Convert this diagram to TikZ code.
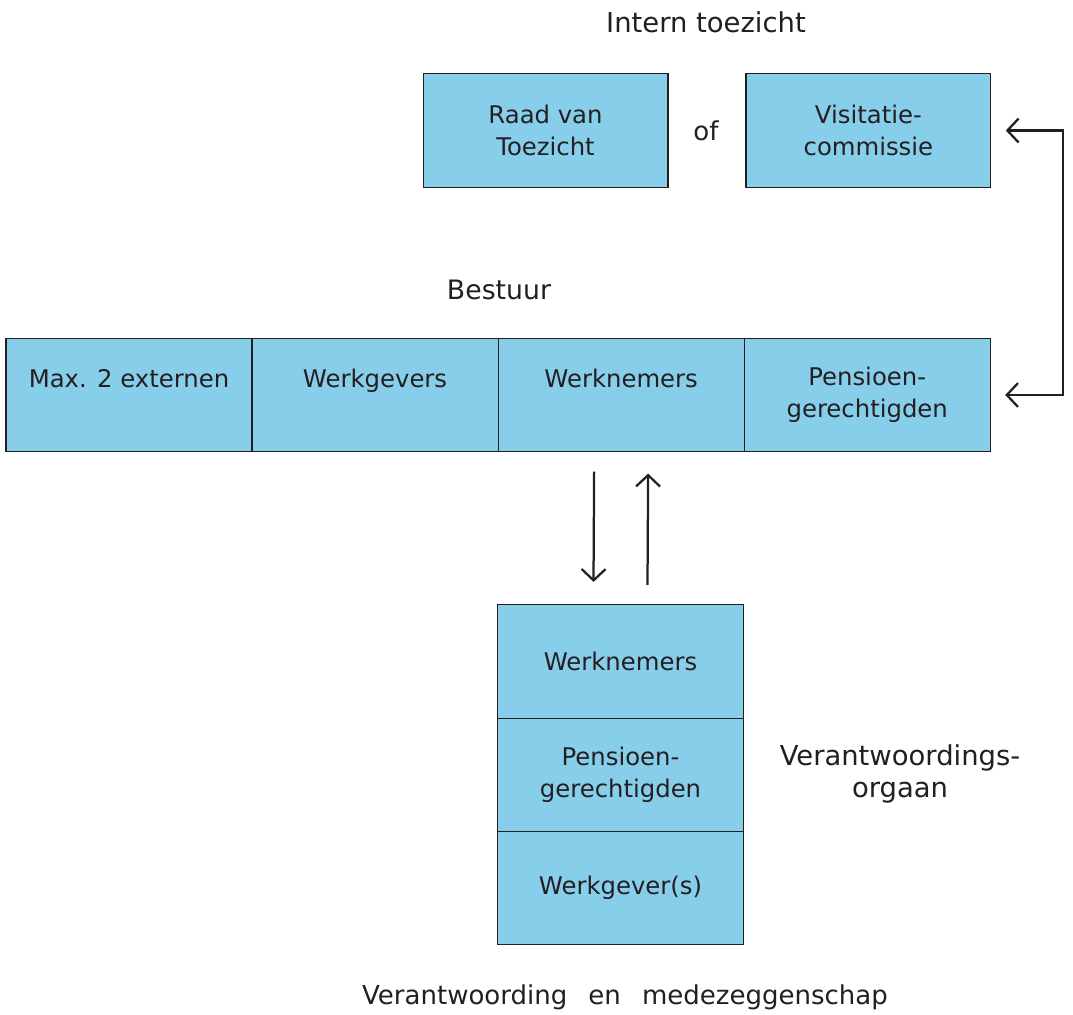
\documentclass[tikz,border=0pt]{standalone}
\usepackage{fontspec}
\setmainfont{DejaVu Sans}
\usetikzlibrary{positioning,arrows.meta}
\definecolor{cellblue}{HTML}{87CEEB}
\definecolor{inkgray}{HTML}{231F20}
\tikzset{
    cell/.style={draw=inkgray, fill=cellblue, line width=0.8pt, outer sep=0pt,
        minimum width=6.15cm, minimum height=2.83cm, align=center, text=inkgray,
        font=\fontsize{17.3}{22.8}\selectfont},
    caption/.style={align=center, text=inkgray, font=\fontsize{19.5}{22.8}\selectfont},
    link/.style={draw=inkgray, line width=1.6pt, -{Straight Barb[length=8pt,width=17pt]}}
}
\begin{document}
\begin{tikzpicture}[x=0.025cm, y=-0.025cm]
    \useasboundingbox (0,0) rectangle (1073,1014);

    % intern toezicht
    \node[caption] (intern) at (706,22) {Intern toezicht};
    \node[cell, minimum width=6.12cm] (rvt) at (545.5,130.5) {Raad van\\Toezicht};
    \node[cell, minimum width=6.12cm, right=1.95cm of rvt] (vc) {Visitatie-\\commissie};
    \node[caption, font=\fontsize{18.5}{22.8}\selectfont] (of) at (706,131) {of};

    % bestuur
    \node[caption, font=\fontsize{19}{22.8}\selectfont] (bestuur) at (499,290) {Bestuur};
    \node[cell] (bext) at (129,395) {Max. 2 externen\\[-6pt]\strut};
    \node[cell, right=0pt of bext] (bwg) {Werkgevers\\[-6pt]\strut};
    \node[cell, right=0pt of bwg] (bwn) {Werknemers\\[-6pt]\strut};
    \node[cell, right=0pt of bwn] (bpg) {Pensioen-\\gerechtigden};

    % verantwoordingsorgaan
    \node[cell] (vwn) at (620.5,661.5) {Werknemers};
    \node[cell, below=0pt of vwn] (vpg) {Pensioen-\\gerechtigden};
    \node[cell, below=0pt of vpg] (vwg) {Werkgever(s)};
    \node[caption] (vo) at (900,774) {Verantwoordings-\\orgaan};
    \node[caption, font=\fontsize{18.5}{22.8}\selectfont] (venm) at (625,997)
        {Verantwoording\hspace{15pt}en\hspace{15pt}medezeggenschap};

    % verbindingen
    \draw[link] ([shift={(-27,20)}]bwn.south) -- ([shift={(-27,-23)}]vwn.north);
    \draw[link] ([shift={(27,-20)}]vwn.north) -- ([shift={(27,22)}]bwn.south);
    \draw[link, {Straight Barb[length=8pt,width=17pt]}-{Straight Barb[length=8pt,width=17pt]}]
        ([shift={(15,0)}]vc.east) -- ++(57,0) |- ([shift={(15,0)}]bpg.east);
\end{tikzpicture}
\end{document}
